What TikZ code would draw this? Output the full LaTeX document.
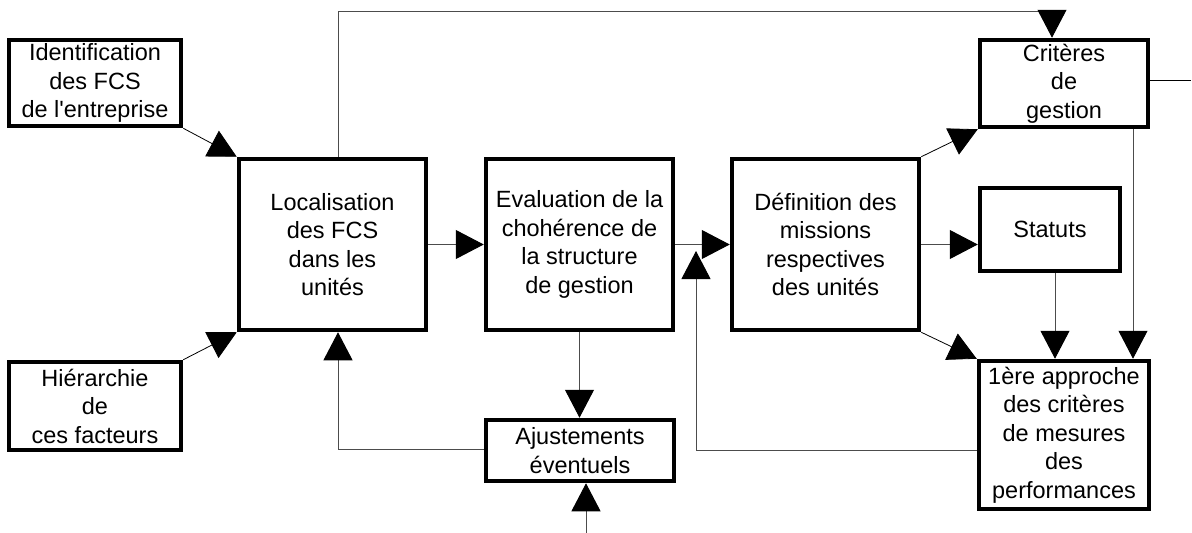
\documentclass[tikz,border=0pt]{standalone}
\usepackage{fontspec}
\setmainfont{Liberation Sans}
\usetikzlibrary{arrows.meta}
\begin{document}
\begin{tikzpicture}[x=1pt,y=-1pt,
  box/.style={draw, line width=4.5pt, rectangle, inner sep=0pt, align=center,
    font=\fontsize{23.5}{28.5}\selectfont},
  conn/.style={line width=1pt, draw=black!70},
  arr/.style={conn, -{Triangle[length=28pt,width=29pt,color=black]}},
  darr/.style={line width=0.8pt, draw=black, -{Triangle[length=28pt,width=29pt,color=black]}}]
\useasboundingbox (0,0) rectangle (1192,533);

\node[box, minimum width=172pt, minimum height=86pt] (idf) at (95,83) {Identification\\des FCS\\de l\textquotesingle entreprise};
\node[box, minimum width=172pt, minimum height=88pt] (hier) at (95,406) {Hiérarchie\\de\\ces facteurs};
\node[box, minimum width=187pt, minimum height=171pt] (loc) at (332.5,244.5) {Localisation\\des FCS\\dans les\\unités};
\node[box, minimum width=187pt, minimum height=171pt] (eval) at (579.5,244.5) {Evaluation de la\\chohérence de\\la structure\\de gestion};
\node[box, minimum width=187pt, minimum height=171pt] (def) at (825.5,244.5) {Définition des\\missions\\respectives\\des unités};
\node[box, minimum width=168pt, minimum height=87pt] (crit) at (1064,83.5) {Critères\\de\\gestion};
\node[box, minimum width=140pt, minimum height=83pt] (stat) at (1050,229.5) {Statuts};
\node[box, minimum width=170pt, minimum height=148pt] (prem) at (1064,435) {1ère approche\\des critères\\de mesures\\des\\performances};
\node[box, minimum width=188pt, minimum height=61pt] (ajust) at (580,450.5) {Ajustements\\éventuels};

\coordinate (topL) at (338,11);
\coordinate (topR) at (1052,11);
\coordinate (critOut) at (1191,80);
\coordinate (bottomIn) at (586,533);
\coordinate (fbL) at (338,449);
\coordinate (fbR) at (696,450);
\coordinate (fbTip) at (696,251);

% diagonals
\draw[darr] (idf.south east) -- (loc.north west);
\draw[darr] (hier.north east) -- (loc.south west);
\draw[darr] (def.north east) -- (crit.south west);
\draw[darr] (def.south east) -- (prem.north west);

% horizontal flow
\draw[arr] (loc.east) -- (eval.west);
\draw[arr] (eval.east) -- (def.west);
\draw[arr] (def.east) -- (def.east -| stat.west);

% top loop
\draw[arr] ([xshift=5.5pt]loc.north) -- (topL) -- (topR) -- (topR |- crit.north);
\draw[line width=1pt] ([yshift=3.5pt]crit.east) -- (critOut);

% verticals to 1ere approche
\draw[arr] ([xshift=5pt]stat.south) -- ([xshift=5pt]stat.south |- prem.north);
\draw[arr] ([xshift=69pt]crit.south) -- ([xshift=69pt]crit.south |- prem.north);

% ajustements
\draw[arr] (eval.south) -- (eval.south |- ajust.north);
\draw[arr] (bottomIn) -- (bottomIn |- ajust.south);
\draw[arr] ([yshift=1.5pt]ajust.west) -- (fbL) -- (fbL |- loc.south);

% feedback from 1ere approche
\draw[arr] ([yshift=-15pt]prem.west) -- (fbR) -- (fbTip);
\end{tikzpicture}
\end{document}
